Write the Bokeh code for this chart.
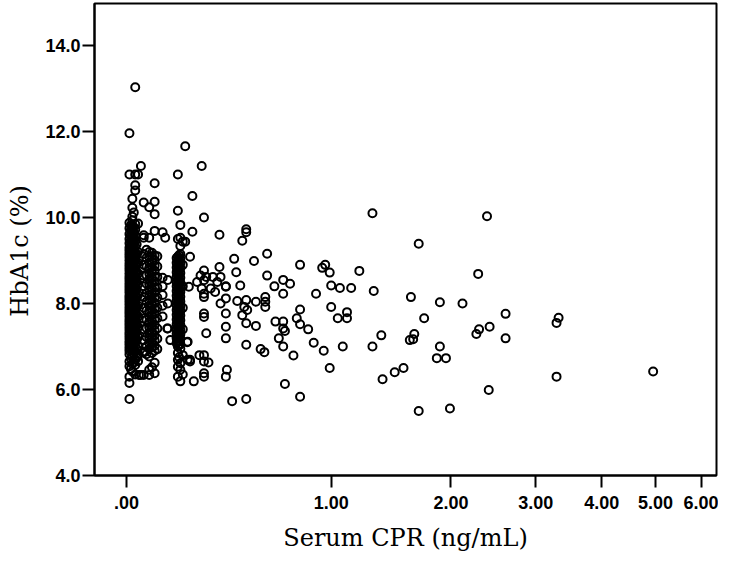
import numpy as np
from bokeh.plotting import figure
from bokeh.models import FixedTicker, CustomJSTickFormatter, Range1d, ColumnDataSource
from bokeh.embed import file_html
from bokeh.resources import INLINE

# ---------------- data ----------------
# dense column near CPR ~ 0.01-0.04 ng/mL
c1_x01 = [5.78, 6.15, 6.3, 6.54, 6.65, 6.82, 6.9, 6.97, 7.05, 7.12, 7.2, 7.27, 7.33, 7.41, 7.48,
          7.55, 7.62, 7.7, 7.77, 7.83, 7.9, 7.98, 8.05, 8.12, 8.18, 8.26, 8.33, 8.4, 8.47, 8.55,
          8.62, 8.7, 8.78, 8.85, 8.92, 9.0, 9.08, 9.15, 9.23, 9.3, 9.4, 9.5, 9.62, 9.75, 9.88,
          11.0, 11.96]
c1_x015 = [6.48, 6.72, 6.93, 7.04, 7.14, 7.24, 7.36, 7.46, 7.57, 7.67, 7.78, 7.88, 7.99, 8.09,
           8.19, 8.3, 8.41, 8.52, 8.62, 8.73, 8.83, 8.94, 9.05, 9.16, 9.26, 9.37, 9.48, 9.6,
           9.71, 9.82]
c1_x02 = [6.42, 6.6, 6.75, 6.86, 6.94, 7.02, 7.09, 7.16, 7.23, 7.3, 7.37, 7.44, 7.51, 7.58, 7.66,
          7.73, 7.8, 7.87, 7.94, 8.01, 8.08, 8.15, 8.22, 8.29, 8.36, 8.44, 8.51, 8.58, 8.66, 8.74,
          8.81, 8.88, 8.96, 9.04, 9.11, 9.19, 9.27, 9.35, 9.45, 9.55, 9.68, 9.8, 9.93, 10.02,
          10.23, 10.44]
c1_x025 = [6.63, 6.84, 6.98, 7.08, 7.19, 7.29, 7.39, 7.5, 7.61, 7.71, 7.82, 7.92, 8.03, 8.13,
           8.24, 8.34, 8.45, 8.56, 8.67, 8.77, 8.87, 8.98, 9.09, 9.21, 9.31, 9.42, 9.53, 9.65,
           9.78, 10.12]
c1_x03 = [6.35, 6.57, 6.7, 6.88, 7.0, 7.1, 7.18, 7.26, 7.35, 7.43, 7.52, 7.6, 7.68, 7.76, 7.85,
          7.93, 8.02, 8.1, 8.2, 8.28, 8.37, 8.46, 8.55, 8.64, 8.72, 8.82, 8.9, 9.0, 9.1, 9.2,
          9.32, 9.45, 9.58, 9.72, 9.85, 10.63, 10.75, 11.0, 13.03]
c1_x035 = [6.74, 6.95, 7.15, 7.34, 7.54, 7.74, 7.92, 8.13, 8.33, 8.52, 8.73, 8.93, 9.13, 9.38]
c1_x04 = [6.66, 6.8, 7.0, 7.22, 7.45, 7.7, 7.95, 8.2, 8.45, 8.7, 8.95, 9.2, 9.86, 11.0]
c1_x05 = [11.2, 6.34]

# column near CPR ~ 0.06-0.15 ng/mL
c2_x06 = [6.34, 6.88, 7.15, 7.4, 7.65, 7.9, 8.15, 8.4, 8.65, 8.9, 9.15, 9.53, 9.59, 10.35]
c2_x07 = [6.82, 7.0, 7.22, 7.43, 7.62, 7.84, 8.04, 8.24, 8.46, 8.66, 8.86, 9.06, 9.25]
c2_x08 = [6.34, 6.46, 6.77, 6.95, 7.08, 7.2, 7.32, 7.45, 7.57, 7.7, 7.82, 7.95, 8.07, 8.2,
          8.32, 8.45, 8.57, 8.7, 8.83, 8.95, 9.08, 9.2, 9.53, 10.24]
c2_x09 = [6.52, 6.85, 6.99, 7.11, 7.23, 7.35, 7.47, 7.6, 7.72, 7.85, 7.97, 8.1, 8.22, 8.35,
          8.47, 8.6, 8.72, 8.85, 8.97, 9.1, 9.18]
c2_x10 = [6.38, 6.62, 6.9, 7.02, 7.14, 7.26, 7.38, 7.5, 7.63, 7.76, 7.88, 8.01, 8.13, 8.26,
          8.38, 8.51, 8.63, 8.76, 8.88, 9.0, 9.12, 9.69, 10.37, 10.8, 10.08]
c2_x11 = [6.94, 7.18, 7.42, 7.66, 7.9, 8.14, 8.38, 8.62, 8.86, 9.1]
c2_x13 = [7.7, 7.95, 8.2, 8.4, 8.6, 9.66]
c2_x15 = [7.42, 8.0, 8.55]

# column near CPR ~ 0.19-0.21 ng/mL
c3_x185 = [7.08, 7.19, 7.3, 7.41, 7.52, 7.63, 7.74, 7.85, 7.96, 8.07, 8.18, 8.29, 8.4, 8.51,
           8.62, 8.73, 8.84, 8.95, 9.06]
c3_x19 = [6.3, 6.53, 6.69, 6.85, 7.0, 7.11, 7.22, 7.33, 7.44, 7.55, 7.66, 7.77, 7.88, 7.99,
          8.1, 8.21, 8.32, 8.43, 8.54, 8.65, 8.76, 8.87, 8.98, 9.09, 9.5, 10.16, 11.0]
c3_x195 = [6.75, 7.03, 7.14, 7.25, 7.36, 7.47, 7.58, 7.69, 7.8, 7.91, 8.02, 8.13, 8.24, 8.35,
           8.46, 8.57, 8.68, 8.79, 8.9, 9.01, 9.12]
c3_x20 = [6.19, 6.46, 6.61, 6.95, 7.06, 7.17, 7.28, 7.39, 7.5, 7.61, 7.72, 7.83, 7.94, 8.05,
          8.16, 8.27, 8.38, 8.49, 8.6, 8.71, 8.82, 8.93, 9.04, 9.15, 9.34, 9.53, 9.83]
c3_x21 = [6.35, 6.8, 7.4, 7.9, 8.4, 8.9, 9.44]

# scattered points
cpr_scatter = [0.22, 0.29, 0.25, 0.30, 0.25, 0.37, 0.50, 0.50, 0.48, 0.14, 0.22, 0.44, 0.54,
               0.61, 0.24, 0.45, 0.61, 0.65, 0.37, 0.30, 0.285, 0.31, 0.34, 0.375, 0.36, 0.40,
               0.33, 0.29, 0.235, 0.27, 0.30, 0.35, 0.30, 0.30, 0.40, 0.40, 0.375, 0.47, 0.455,
               0.50, 0.55, 0.49, 0.505, 0.60, 0.60, 0.60, 0.40, 0.30, 0.30, 0.48, 0.50, 0.55,
               0.40, 0.40, 0.31, 0.50, 0.575, 0.595, 0.656, 0.675, 0.23, 0.28, 0.24, 0.30, 0.30,
               0.32, 0.30, 0.30, 0.256, 0.405, 0.40, 0.43, 0.50, 0.23, 0.24, 0.148, 0.16, 0.187,
               0.228, 0.066, 0.043,
               1.30, 2.39, 1.69, 0.80, 0.96, 0.94, 0.99, 1.20, 2.29, 0.70, 0.74, 0.70, 0.90,
               1.00, 1.06, 1.14, 1.31, 1.62, 1.89, 2.12, 2.61, 0.80, 1.00, 1.11, 1.045, 1.11,
               0.78, 0.70, 0.80, 0.70, 0.71, 0.85, 1.74, 2.30, 2.27, 2.42, 2.61, 1.65, 1.64,
               1.61, 1.37, 0.885, 0.95, 1.08, 1.30, 1.89, 1.86, 1.95, 0.76, 0.70, 0.99, 1.555,
               1.48, 1.38, 0.71, 0.80, 2.41, 1.69, 1.99, 3.32, 3.29, 3.29, 4.95]
hba1c_scatter = [11.66, 11.2, 10.5, 10.0, 9.67, 9.6, 9.73, 9.66, 9.46, 9.53, 9.44, 9.04, 8.99,
                 9.16, 9.09, 8.73, 8.65, 8.40, 8.85, 8.77, 8.65, 8.62, 8.62, 8.62, 8.50, 8.40,
                 8.35, 8.35, 8.39, 8.50, 8.54, 8.27, 8.15, 8.23, 8.39, 8.12, 8.0, 8.42, 8.06,
                 8.08, 8.04, 7.92, 7.85, 8.15, 8.04, 7.92, 7.77, 7.77, 7.69, 7.73, 7.54, 7.48,
                 7.46, 7.19, 7.31, 7.04, 6.94, 6.87, 7.58, 7.19, 7.11, 6.8, 6.69, 6.8, 6.65,
                 6.63, 6.38, 6.3, 6.19, 6.46, 6.3, 5.73, 5.78, 6.69, 6.65, 7.42, 7.15, 7.11,
                 7.1, 6.88, 6.34,
                 10.1, 10.03, 9.39, 8.90, 8.90, 8.83, 8.72, 8.76, 8.69, 8.55, 8.46, 8.23, 8.23,
                 8.42, 8.36, 8.36, 8.29, 8.15, 8.03, 8.0, 7.76, 7.86, 7.92, 7.80, 7.66, 7.66,
                 7.66, 7.58, 7.52, 7.42, 7.36, 7.40, 7.66, 7.40, 7.29, 7.46, 7.19, 7.29, 7.17,
                 7.15, 7.26, 7.09, 6.90, 7.0, 7.0, 7.0, 6.73, 6.73, 6.79, 7.0, 6.50, 6.50,
                 6.40, 6.24, 6.13, 5.83, 5.99, 5.50, 5.56, 7.67, 7.55, 6.30, 6.42]

x_tick_values = [0, 1, 2, 3, 4, 5, 6]
x_tick_labels = [".00", "1.00", "2.00", "3.00", "4.00", "5.00", "6.00"]
y_tick_values = [4, 6, 8, 10, 12, 14]
y_tick_labels = ["4.0", "6.0", "8.0", "10.0", "12.0", "14.0"]

# ---------------- assemble ----------------
groups = [(0.01, c1_x01), (0.015, c1_x015), (0.02, c1_x02), (0.025, c1_x025), (0.03, c1_x03),
          (0.035, c1_x035), (0.04, c1_x04), (0.05, c1_x05),
          (0.06, c2_x06), (0.07, c2_x07), (0.08, c2_x08), (0.09, c2_x09), (0.10, c2_x10),
          (0.11, c2_x11), (0.13, c2_x13), (0.15, c2_x15),
          (0.185, c3_x185), (0.19, c3_x19), (0.195, c3_x195), (0.20, c3_x20), (0.21, c3_x21)]
cpr = []
hba1c = []
for cx, ys in groups:
    cpr += [cx] * len(ys)
    hba1c += ys
cpr += cpr_scatter
hba1c += hba1c_scatter

cpr = np.array(cpr, dtype=float)
hba1c = np.array(hba1c, dtype=float)

# the x axis uses a log(1 + x) scale
u = np.log1p(cpr)
src = ColumnDataSource(dict(u=u, cpr=cpr, hba1c=hba1c))

x_lo, x_hi = -0.1027, 6.374
p = figure(width=718, height=554, output_backend="svg", toolbar_location=None,
           x_range=Range1d(float(np.log1p(x_lo)), float(np.log1p(x_hi))),
           y_range=Range1d(4, 14.98),
           min_border_left=94, min_border_right=2, min_border_top=3, min_border_bottom=76)

p.scatter(x="u", y="hba1c", source=src, marker="circle", size=8,
          fill_color=None, line_color="black", line_width=2)

p.xgrid.visible = False
p.ygrid.visible = False
p.background_fill_color = "white"
p.border_fill_color = "white"
p.outline_line_color = "black"
p.outline_line_width = 2

fmt_code = """
let best = 0;
for (let i = 0; i < vals.length; i++) {
  if (Math.abs(vals[i] - tick) < Math.abs(vals[best] - tick)) best = i;
}
return labels[best];
"""
xt = [float(v) for v in np.log1p(np.array(x_tick_values, dtype=float))]
p.xaxis.ticker = FixedTicker(ticks=xt)
p.xaxis.formatter = CustomJSTickFormatter(args=dict(vals=xt, labels=x_tick_labels), code=fmt_code)
p.yaxis.ticker = FixedTicker(ticks=[float(v) for v in y_tick_values])
p.yaxis.formatter = CustomJSTickFormatter(args=dict(vals=[float(v) for v in y_tick_values],
                                                    labels=y_tick_labels), code=fmt_code)

for ax in (p.xaxis, p.yaxis):
    ax.axis_line_color = "black"
    ax.axis_line_width = 2
    ax.major_tick_line_color = "black"
    ax.major_tick_line_width = 2
    ax.major_tick_out = 12
    ax.major_tick_in = 0
    ax.minor_tick_line_color = None
    ax.major_label_text_font = "Liberation Sans"
    ax.major_label_text_font_style = "bold"
    ax.major_label_text_font_size = "18px"
    ax.major_label_text_color = "black"
    ax.axis_label_text_font = "DejaVu Serif"
    ax.axis_label_text_font_style = "normal"
    ax.axis_label_text_font_size = "24px"
    ax.axis_label_text_color = "black"

p.xaxis.axis_label = "Serum CPR (ng/mL)"
p.yaxis.axis_label = "HbA1c (%)\u00a0\u00a0\u00a0"
p.xaxis.major_label_standoff = 8
p.yaxis.major_label_standoff = 2
p.xaxis.axis_label_standoff = 12
p.yaxis.axis_label_standoff = 8

open("out.html", "w").write(file_html(p, INLINE))
